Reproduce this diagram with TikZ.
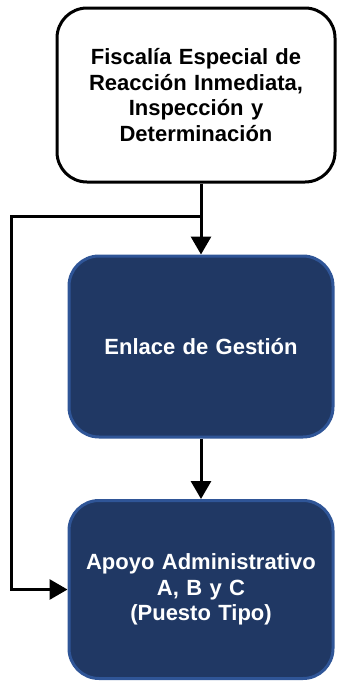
\documentclass[tikz,border=0pt]{standalone}
\usepackage{fontspec}
\setmainfont{Liberation Sans}
\usepackage{tikz}
\usetikzlibrary{arrows.meta,positioning,calc}
\definecolor{azulfondo}{RGB}{32,56,100}
\definecolor{azulborde}{RGB}{47,85,151}
\tikzset{
  >={Triangle[width=20pt,length=18pt]},
  fiscbox/.style={rectangle, rounded corners=30pt, draw=black, line width=3pt, fill=white,
                  minimum width=278pt, minimum height=174pt, inner sep=0pt,
                  text width=250pt, align=center, font=\fontsize{22}{25.7}\selectfont\bfseries},
  unidad/.style={rectangle, rounded corners=30pt, draw=azulborde, line width=3pt, fill=azulfondo,
                 minimum width=264pt, inner sep=0pt, text=white,
                 text width=250pt, align=center, font=\fontsize{22}{25.7}\selectfont\bfseries},
  line/.style={draw, line width=3pt, ->}
}

\begin{document}
\begin{tikzpicture}[x=1pt,y=1pt]
\useasboundingbox (0,0) rectangle (338,-681);
% titular
\node[fiscbox] (fisc) at (196,-95) {Fiscalía Especial de\\Reacción Inmediata,\\Inspección y\\Determinación};
% unidades
\node[unidad, minimum height=181pt] (enlace) at (201,-346.5) {Enlace de Gestión};
\node[unidad, minimum height=178pt] (apoyo) at (201,-589.5) {Apoyo Administrativo\\A, B y C\\(Puesto Tipo)};
% conectores
\coordinate (junta) at (201,-216);
\coordinate (esquina) at (11.5,-216);
\draw[line] (fisc.south -| enlace.north) -- (enlace.north);
\draw[line] (enlace.south) -- (apoyo.north);
\draw[line] (junta) -- (esquina) |- (apoyo.west);
\end{tikzpicture}
\end{document}
